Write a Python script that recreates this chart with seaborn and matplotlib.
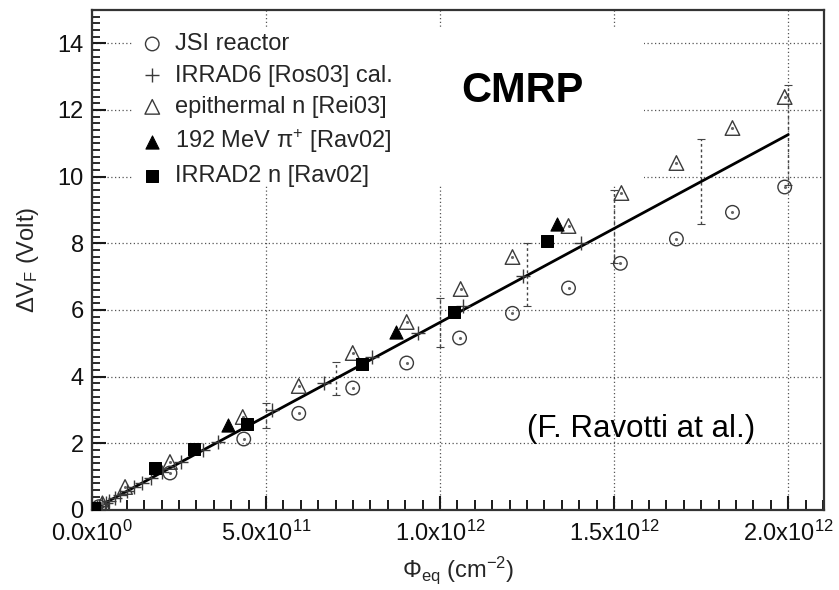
import numpy as np
import pandas as pd
import matplotlib
matplotlib.use("Agg")
import matplotlib.pyplot as plt
import seaborn as sns
from matplotlib.ticker import MultipleLocator, FuncFormatter, FixedLocator
from matplotlib.patches import Rectangle

# ---------------- data ----------------
jsi_x = [0.2e11, 2.24e11, 4.36e11, 5.94e11, 7.49e11, 9.04e11, 10.56e11, 12.08e11,
         13.69e11, 15.18e11, 16.79e11, 18.40e11, 19.90e11]
jsi_y = [0.10, 1.11, 2.13, 2.90, 3.66, 4.41, 5.16, 5.90, 6.66, 7.40, 8.13, 8.93, 9.69]

irrad6_x = [0.05e11, 0.1e11, 0.15e11, 0.2e11, 0.3e11, 0.4e11, 0.5e11, 0.65e11, 0.8e11,
            1.0e11, 1.2e11, 1.45e11, 1.7e11, 2.0e11, 2.55e11, 3.2e11, 3.62e11,
            5.16e11, 6.66e11, 8.03e11, 9.38e11, 10.65e11, 12.37e11, 14.06e11]
irrad6_y = [0.03, 0.06, 0.09, 0.12, 0.17, 0.22, 0.28, 0.37, 0.45, 0.56, 0.68, 0.82,
            0.96, 1.13, 1.43, 1.80, 2.04, 3.00, 3.80, 4.60, 5.31, 6.12, 7.02, 8.01]

epi_x = [0.3e11, 0.95e11, 2.24e11, 4.33e11, 5.94e11, 7.49e11, 9.04e11, 10.59e11,
         12.08e11, 13.69e11, 15.21e11, 16.79e11, 18.40e11, 19.90e11]
epi_y = [0.20, 0.69, 1.44, 2.79, 3.72, 4.71, 5.64, 6.63, 7.59, 8.52, 9.51, 10.41,
         11.46, 12.39]

pion_x = [0.02e11, 3.90e11, 8.72e11, 13.37e11]
pion_y = [0.03, 2.55, 5.34, 8.58]

irrad2_x = [0.05e11, 1.81e11, 2.93e11, 4.45e11, 7.75e11, 10.39e11, 13.08e11]
irrad2_y = [0.05, 1.26, 1.83, 2.58, 4.38, 5.94, 8.07]

fit_x = [0.0, 2.0e12]
fit_y = [0.0, 11.26]

# calibration uncertainty bars
err_x = [5.0e11, 7.0e11, 10.0e11, 12.5e11, 15.0e11, 17.5e11, 20.0e11]
err_c = [2.83, 3.95, 5.62, 7.07, 8.50, 9.85, 11.26]
err_h = [0.375, 0.50, 0.73, 0.95, 1.10, 1.27, 1.50]

x_ticks = [0.0, 5.0e11, 1.0e12, 1.5e12, 2.0e12]
y_ticks = [0, 2, 4, 6, 8, 10, 12, 14]

labels = ["JSI reactor", "IRRAD6 [Ros03] cal.", "epithermal n [Rei03]",
          "192 MeV \u03c0$^{+}$ [Rav02]", "IRRAD2 n [Rav02]"]

# ---------------- style ----------------
sns.set_theme(style="ticks")
plt.rcParams["font.family"] = ["Liberation Sans", "DejaVu Sans"]
plt.rcParams["mathtext.fontset"] = "custom"
plt.rcParams["mathtext.rm"] = "Liberation Sans"
plt.rcParams["mathtext.it"] = "Liberation Sans:italic"
plt.rcParams["mathtext.bf"] = "Liberation Sans:bold"
plt.rcParams["mathtext.default"] = "regular"

fig = plt.figure(figsize=(8.39, 5.90), dpi=100)
ax = fig.add_axes([92 / 839, 1 - 510 / 590, 732 / 839, 500 / 590])

# ---------------- marks ----------------
sns.lineplot(x=fit_x, y=fit_y, color="black", linewidth=2.0, ax=ax, zorder=3)

eb = ax.errorbar(err_x, err_c, yerr=err_h, fmt="none", ecolor="#444444",
                 elinewidth=1.0, capsize=3, capthick=0.8, zorder=2.5)
for lc in eb[2]:
    lc.set_linestyle((0, (2, 2)))

gray = "#3a3a3a"
h_jsi = sns.scatterplot(x=jsi_x, y=jsi_y, marker="o", s=95, ax=ax, zorder=4,
                        label=labels[0]).collections[-1]
h_jsi.set_facecolor("none"); h_jsi.set_edgecolor(gray); h_jsi.set_linewidth(1.0)

h_ir6 = sns.scatterplot(x=irrad6_x, y=irrad6_y, marker="+", s=110, color=gray,
                        linewidth=1.0, ax=ax, zorder=4, label=labels[1]).collections[-1]

h_epi = sns.scatterplot(x=epi_x, y=epi_y, marker="^", s=110, ax=ax, zorder=4,
                        label=labels[2]).collections[-1]
h_epi.set_facecolor("none"); h_epi.set_edgecolor(gray); h_epi.set_linewidth(1.0)

h_pion = sns.scatterplot(x=pion_x, y=pion_y, marker="^", s=90, color="black",
                         edgecolor="black", ax=ax, zorder=5,
                         label=labels[3]).collections[-1]

h_ir2 = sns.scatterplot(x=irrad2_x, y=irrad2_y, marker="s", s=80, color="black",
                        edgecolor="black", ax=ax, zorder=5,
                        label=labels[4]).collections[-1]

# centre dots of the open symbols
ax.scatter(jsi_x + epi_x, jsi_y + epi_y, s=1.5, color="#666666", zorder=4.5)

# ---------------- axes styling ----------------
ax.set_xlim(0, 2.103e12)
ax.set_ylim(0, 15)

ax.xaxis.set_major_locator(FixedLocator(x_ticks))
ax.xaxis.set_minor_locator(MultipleLocator(5e10))
ax.yaxis.set_major_locator(FixedLocator(y_ticks))
ax.yaxis.set_minor_locator(MultipleLocator(0.2))


def fmt_x(v, pos):
    if v == 0:
        return "0.0x10$^{0}$"
    e = int(np.floor(np.log10(v)))
    m = v / 10 ** e
    return f"{m:.1f}x10$^{{{e}}}$"


ax.xaxis.set_major_formatter(FuncFormatter(fmt_x))
ax.yaxis.set_major_formatter(FuncFormatter(lambda v, p: f"{int(v)}"))

ax.grid(True, which="major", linestyle=(0, (1, 2)), color="#555555", linewidth=0.9)
for s in ax.spines.values():
    s.set_visible(True)
    s.set_color("#333333")
    s.set_linewidth(1.6)
ax.tick_params(which="both", direction="in", left=True, bottom=True,
               top=False, right=False, color="#1a1a1a", labelcolor="#111111")
ax.tick_params(axis="x", which="major", length=10, width=1.5, labelsize=17, pad=8)
ax.tick_params(axis="y", which="major", length=10, width=1.5, labelsize=17, pad=6)
ax.tick_params(axis="x", which="minor", length=7, width=1.4)
ax.tick_params(axis="y", which="minor", length=5.5, width=1.3)

# white box behind legend / title (hides the grid there)
ax.add_patch(Rectangle((0.0546, 0.65), 0.70, 0.314, transform=ax.transAxes,
                       facecolor="white", edgecolor="none", zorder=1.5))
ax.xaxis.set_zorder(1.2)
ax.yaxis.set_zorder(1.2)

leg = ax.legend(handles=[h_jsi, h_ir6, h_epi, h_pion, h_ir2], labels=labels,
                loc="upper left", bbox_to_anchor=(0.042, 0.982), frameon=False,
                fontsize=17, handletextpad=0.3, labelspacing=0.40,
                handlelength=1.3, borderaxespad=0.2)
leg.set_zorder(6)

ax.text(0.505, 0.816, "CMRP", transform=ax.transAxes, fontsize=30,
        fontweight="bold", color="black", ha="left", va="baseline", zorder=6)
ax.text(0.594, 0.146, "(F. Ravotti at al.)", transform=ax.transAxes, fontsize=22.5,
        color="black", ha="left", va="baseline", zorder=6)

ax.set_xlabel("\u03a6$_{eq}$ (cm$^{-2}$)", fontsize=17, labelpad=6)
ax.set_ylabel("\u0394V$_{F}$ (Volt)", fontsize=17, labelpad=12)

fig.savefig("out.png", dpi=100)
